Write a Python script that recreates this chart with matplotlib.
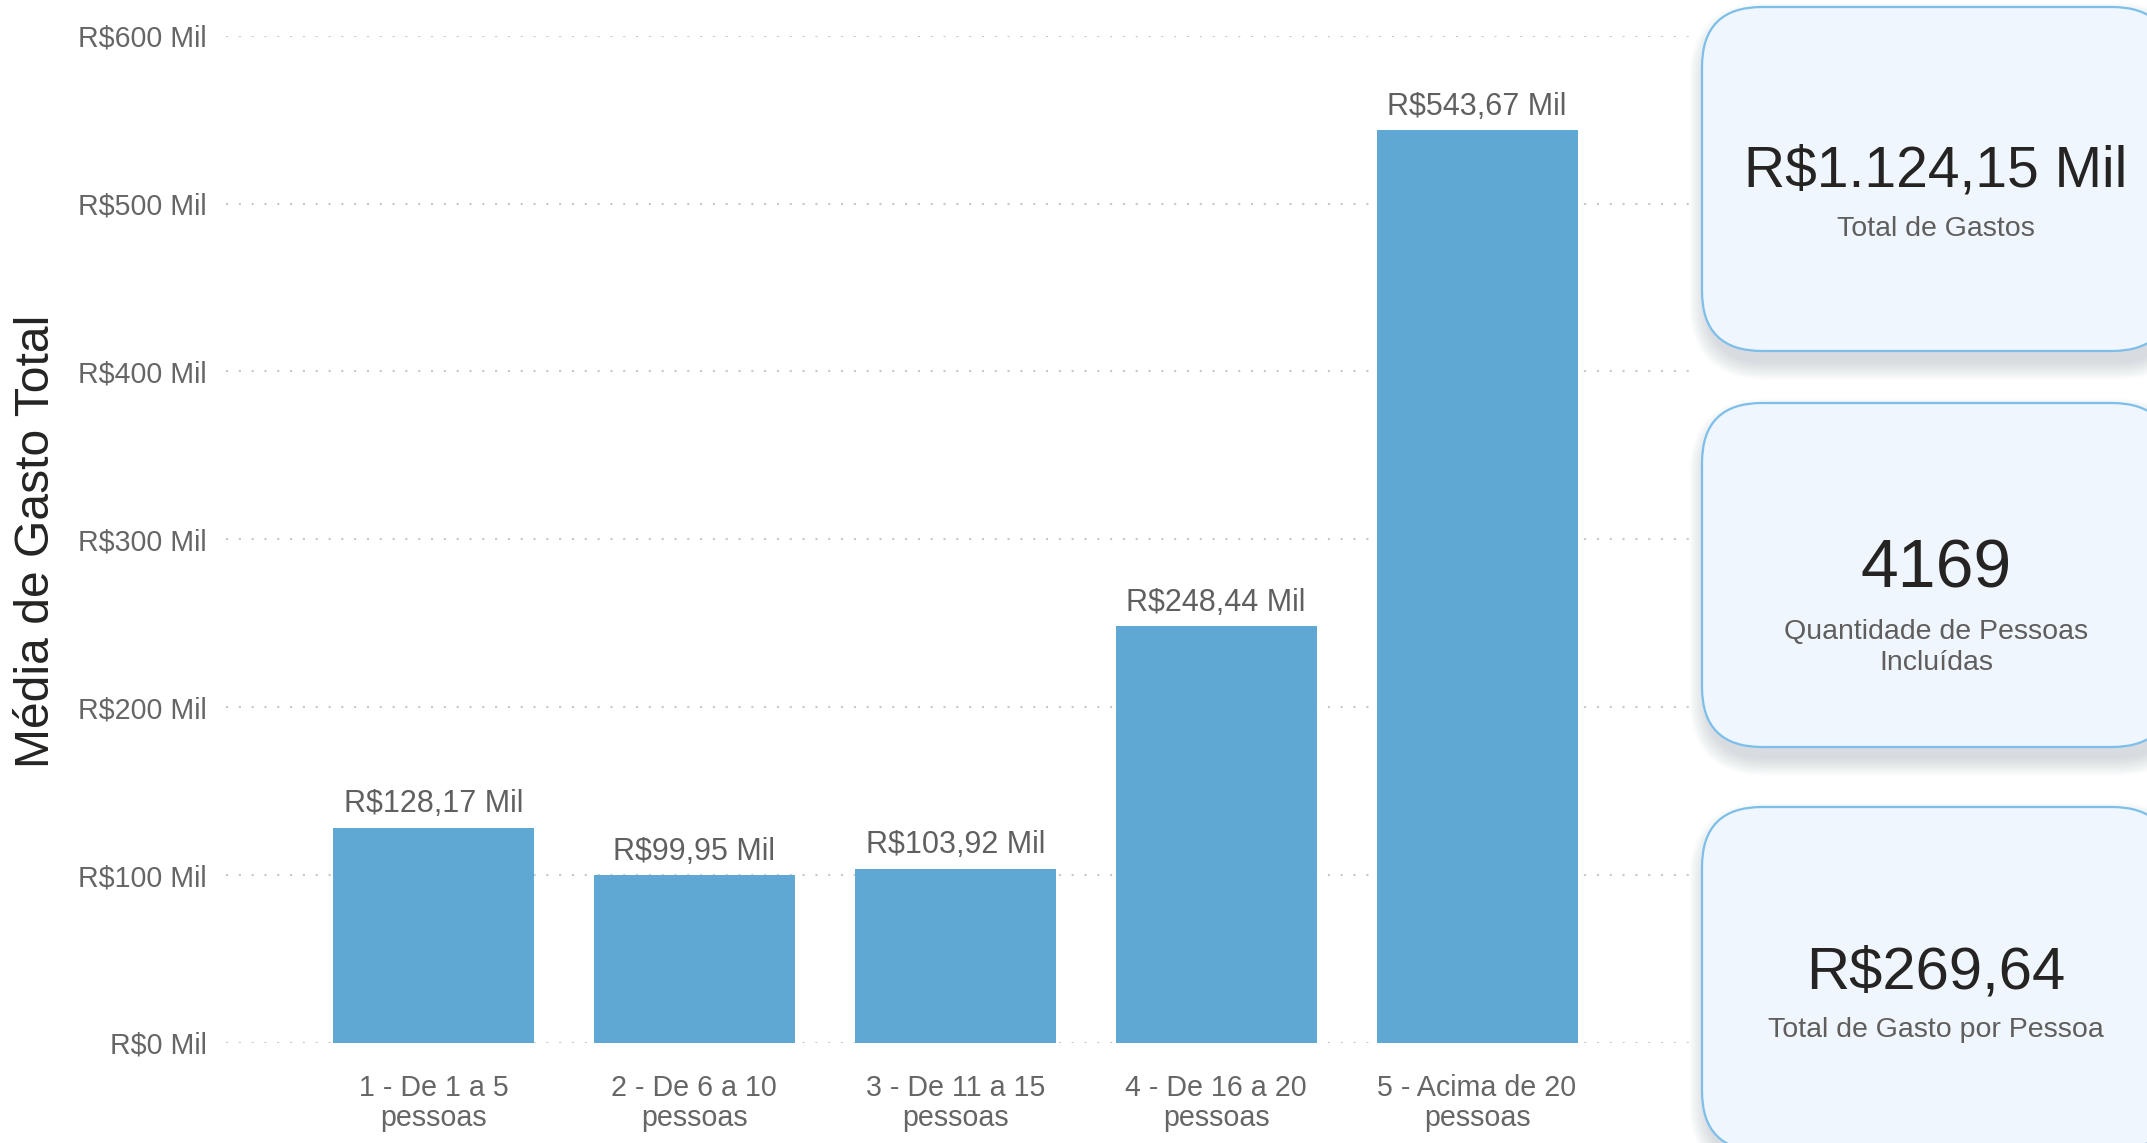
import matplotlib
matplotlib.use("Agg")
import matplotlib.pyplot as plt
from matplotlib.patches import FancyBboxPatch
from matplotlib.ticker import FuncFormatter, MultipleLocator

# ---- data ----
categories = ["1 - De 1 a 5 pessoas", "2 - De 6 a 10 pessoas", "3 - De 11 a 15 pessoas",
              "4 - De 16 a 20 pessoas", "5 - Acima de 20 pessoas"]
values = [128.17, 99.95, 103.92, 248.44, 543.67]  # R$ Mil
y_label = "Média de Gasto Total"
kpi_values = ["R$1.124,15 Mil", "4169", "R$269,64"]
kpi_labels = ["Total de Gastos", "Quantidade de Pessoas\nIncluídas", "Total de Gasto por Pessoa"]

# ---- style ----
W, H = 2147, 1143
DPI = 100
FONT = ["Liberation Sans", "DejaVu Sans"]
plt.rcParams["font.family"] = FONT
BAR = "#5FA8D3"
GRAY = "#666666"
DARK = "#252423"

fig = plt.figure(figsize=(W / DPI, H / DPI), dpi=DPI, facecolor="white")

def px_axes(left, top, right, bottom):
    return [left / W, 1 - bottom / H, (right - left) / W, (bottom - top) / H]

ax = fig.add_axes(px_axes(226, 35.6, 1691, 1043))
x = list(range(len(categories)))
bars = ax.bar(x, values, width=0.77, color=BAR, zorder=2)
ax.set_xlim(-0.795, 4.82)
ax.set_ylim(0, 600)
ax.yaxis.set_major_locator(MultipleLocator(100))
ax.yaxis.set_major_formatter(FuncFormatter(lambda v, p: f"R${v:.0f} Mil"))
ax.set_xticks(x)
ax.set_xticklabels([c.replace(" pessoas", "\npessoas") for c in categories],
                   fontsize=20.6, color=GRAY, linespacing=1.1)
ax.tick_params(axis="y", labelsize=20.6, labelcolor=GRAY, length=0, pad=14)
ax.tick_params(axis="x", length=0, pad=22.5)
for s in ax.spines.values():
    s.set_visible(False)
ax.grid(axis="y", color="#c8c8c8", linestyle=(0, (1, 5.15)), linewidth=1.5, zorder=0)
ax.set_axisbelow(True)

for b, v in zip(bars, values):
    lbl = f"R${v:.2f}".replace(".", ",") + " Mil"
    ax.annotate(lbl, (b.get_x() + b.get_width() / 2, v), xytext=(0, 6),
                textcoords="offset points", ha="center", va="bottom",
                fontsize=22, color="#606060")

fig.text(37 / W, 1 - 541 / H, y_label, rotation=90, ha="center", va="center",
         fontsize=34.6, color=DARK)

# ---- KPI cards (overlay in pixel coordinates) ----
ov = fig.add_axes([0, 0, 1, 1], zorder=5)
ov.set_xlim(0, W)
ov.set_ylim(H, 0)
ov.axis("off")
ov.patch.set_alpha(0)

card_left, card_w, card_h = 1702, 470, 344
card_tops = [7, 403, 807]
val_base = [187, 588, 988]
lab_center = [229, 647, 1030]
val_sizes = [41, 49, 43]
cx = 1936

for top, vb, lc, vs, val, lab in zip(card_tops, val_base, lab_center, val_sizes, kpi_values, kpi_labels):
    # soft shadow
    for i in range(12):
        ov.add_patch(FancyBboxPatch((card_left + 4, top + 12), card_w, card_h,
                                    boxstyle=f"round,pad={i * 1.5},rounding_size={60 + i * 1.5}",
                                    facecolor="#5a6f85", edgecolor="none", alpha=0.018, zorder=1))
    ov.add_patch(FancyBboxPatch((card_left, top), card_w, card_h,
                                boxstyle="round,pad=0,rounding_size=60",
                                facecolor="#EFF6FE", edgecolor="#7DBFEA", linewidth=1.6, zorder=2))
    ov.text(cx, vb, val, ha="center", va="baseline", fontsize=vs, color=DARK, zorder=3)
    ov.text(cx, lc, lab, ha="center", va="center", fontsize=20.5, color="#605E5C",
            linespacing=1.25, zorder=3)

fig.savefig("out.png", dpi=DPI, facecolor="white")
